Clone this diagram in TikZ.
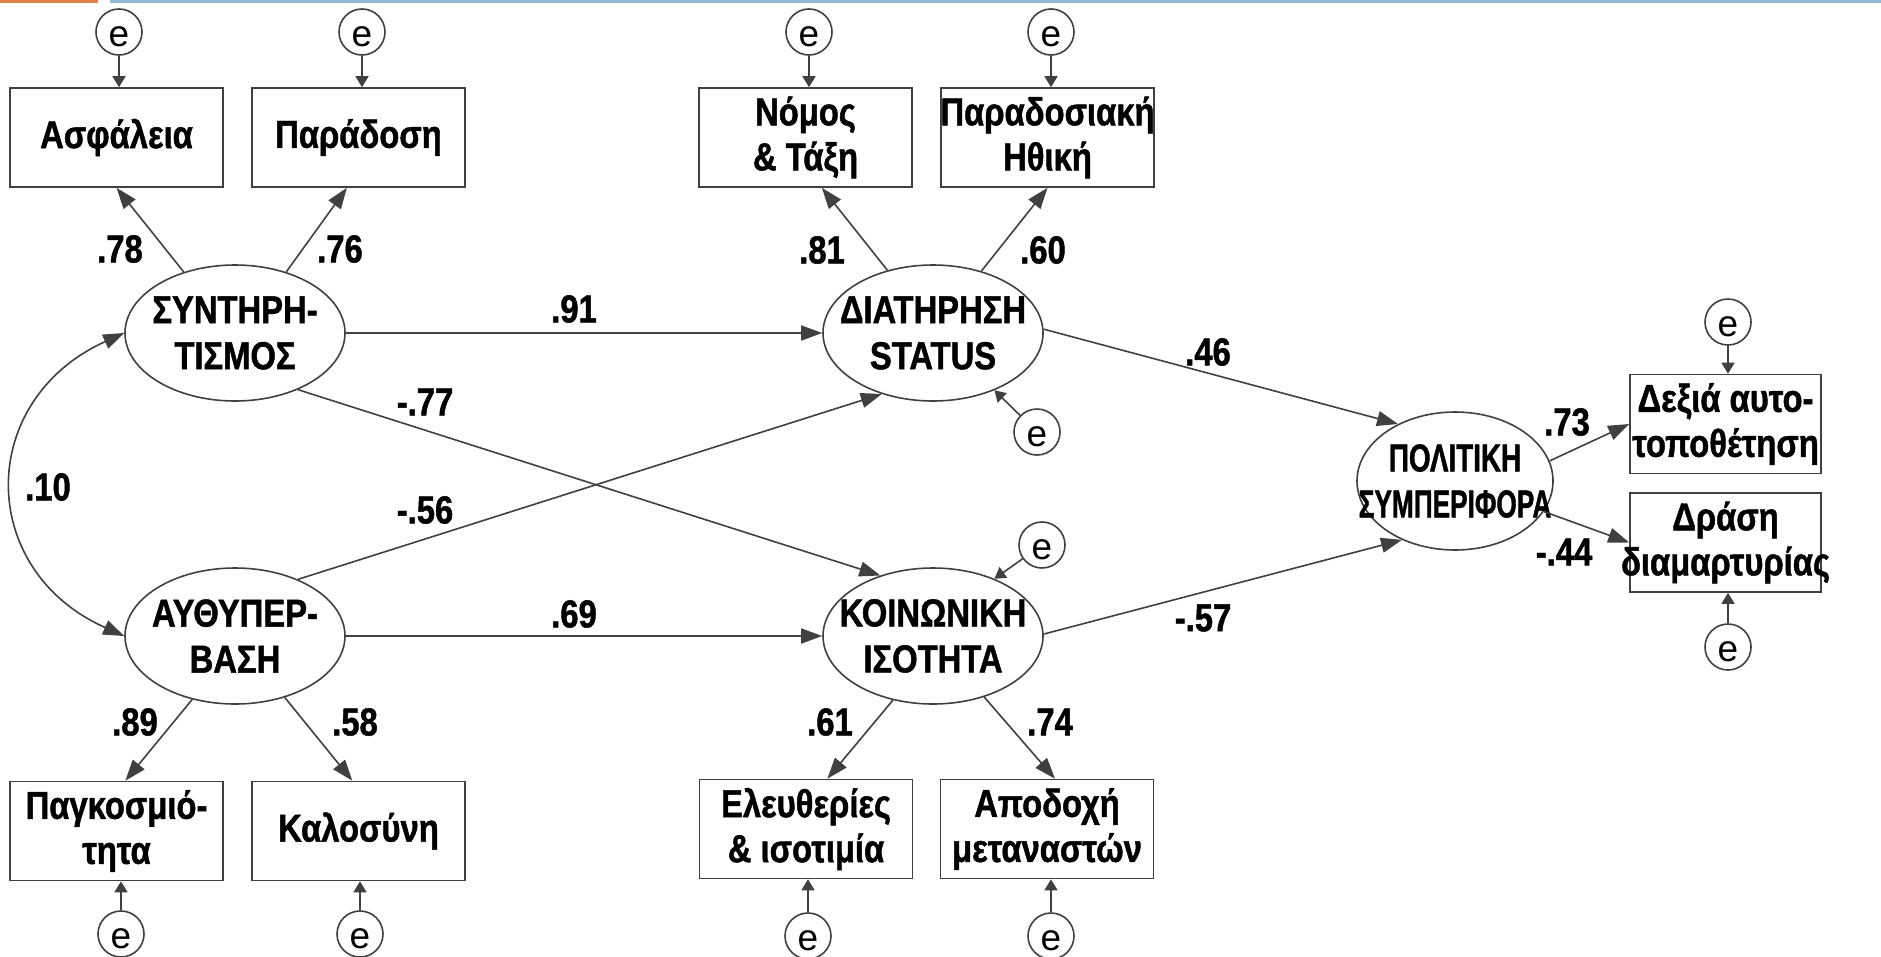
\documentclass[tikz,border=0pt]{standalone}
\usepackage{graphicx}
\usepackage{fontspec}
\setmainfont{Liberation Sans}[FakeStretch=0.84,BoldFeatures={FakeBold=1.2}]
\newfontfamily\efont{Liberation Sans}
\usetikzlibrary{shapes.geometric,arrows.meta}
\definecolor{linegray}{HTML}{404040}
\definecolor{barorange}{HTML}{E1824B}
\definecolor{barblue}{HTML}{96B9D4}

\begin{document}
\begin{tikzpicture}[x=1pt,y=-1pt,
   latent/.style={ellipse,draw=linegray,line width=1.6pt,minimum width=220pt,minimum height=136pt,
      inner xsep=-40pt,inner ysep=0pt,align=center,font=\bfseries\fontsize{39}{46}\selectfont},
   obs/.style={rectangle,draw=linegray,line width=1.6pt,minimum width=213pt,minimum height=99pt,
      inner xsep=-20pt,inner ysep=0pt,align=center,font=\bfseries\fontsize{39}{45}\selectfont},
   err/.style={circle,draw=linegray,line width=1.6pt,minimum size=46pt,inner sep=0pt,
      text height=28pt,text depth=0pt,font=\efont\fontsize{37}{37}\selectfont},
   coef/.style={inner sep=0pt,font=\bfseries\fontsize{39}{45}\selectfont},
   causal/.style={draw=linegray,line width=1.6pt,-{Triangle[length=21pt,width=15pt]}},
   covar/.style={draw=linegray,line width=1.6pt,{Triangle[length=21pt,width=15pt]}-{Triangle[length=21pt,width=15pt]}},
   errarrow/.style={draw=linegray,line width=1.6pt,-{Triangle[length=11pt,width=13pt]}}]
   \useasboundingbox (0,0) rectangle (1881,956);
   \fill[barorange] (0,0) rectangle (98,3);
   \fill[barblue] (110,0) rectangle (1881,3);

   % latent variables
   \node[latent] (syn) at (235,333) {ΣΥΝΤΗΡΗ-\\ΤΙΣΜΟΣ};
   \node[latent] (auth) at (235,636) {ΑΥΘΥΠΕΡ-\\ΒΑΣΗ};
   \node[latent] (dia) at (933,333) {ΔΙΑΤΗΡΗΣΗ\\STATUS};
   \node[latent] (koin) at (933,636) {ΚΟΙΝΩΝΙΚΗ\\ΙΣΟΤΗΤΑ};
   \node[latent,minimum width=196pt,minimum height=138pt] (pol) at (1455,481)
      {\scalebox{0.85}[1]{ΠΟΛΙΤΙΚΗ}\\\scalebox{0.8}[1]{ΣΥΜΠΕΡΙΦΟΡΑ}};

   % indicators
   \node[obs] (asf) at (116.5,137.5) {Ασφάλεια};
   \node[obs] (par) at (358.5,137.5) {Παράδοση};
   \node[obs] (nom) at (805.5,137.5) {Νόμος\\\& Τάξη};
   \node[obs] (ithi) at (1047.5,137.5) {Παραδοσιακή\\Ηθική};
   \node[obs] (pagk) at (116.5,831) {Παγκοσμιό-\\τητα};
   \node[obs] (kal) at (358.5,831) {Καλοσύνη};
   \node[obs] (ele) at (806,829) {Ελευθερίες\\\& ισοτιμία};
   \node[obs] (apo) at (1047,829) {Αποδοχή\\μεταναστών};
   \node[obs,minimum width=191pt] (dex) at (1725.5,424) {Δεξιά αυτο-\\τοποθέτηση};
   \node[obs,minimum width=191pt] (dra) at (1725.5,542.5) {Δράση\\διαμαρτυρίας};

   % error terms
   \node[err] (e1) at (119,32) {e};
   \node[err] (e2) at (362,32) {e};
   \node[err] (e3) at (809,32) {e};
   \node[err] (e4) at (1051,32) {e};
   \node[err] (e5) at (121,934) {e};
   \node[err] (e6) at (360,934) {e};
   \node[err] (e7) at (808,936) {e};
   \node[err] (e8) at (1051,936) {e};
   \node[err] (e9) at (1037,432) {e};
   \node[err] (e10) at (1042,545) {e};
   \node[err] (e11) at (1728,322) {e};
   \node[err] (e12) at (1728,647) {e};

   \draw[errarrow] (e1.south) -- (e1.south |- asf.north);
   \draw[errarrow] (e2.south) -- (e2.south |- par.north);
   \draw[errarrow] (e3.south) -- (e3.south |- nom.north);
   \draw[errarrow] (e4.south) -- (e4.south |- ithi.north);
   \draw[errarrow] (e5.north) -- (e5.north |- pagk.south);
   \draw[errarrow] (e6.north) -- (e6.north |- kal.south);
   \draw[errarrow] (e7.north) -- (e7.north |- ele.south);
   \draw[errarrow] (e8.north) -- (e8.north |- apo.south);
   \draw[errarrow] (e9) -- (dia.-43);
   \draw[errarrow] (e10) -- (koin.43);
   \draw[errarrow] (e11.south) -- (e11.south |- dex.north);
   \draw[errarrow] (e12.north) -- (e12.north |- dra.south);

   % structural paths
   \draw[covar] (syn.west) .. controls (-24,400) and (-24,570) .. (auth.west);
   \draw[causal] (syn) -- (dia);
   \draw[causal] (auth) -- (koin);
   \draw[causal] (syn.-42) -- (koin.131);
   \draw[causal] (auth.42) -- (dia.230);
   \draw[causal] (dia.2) -- (pol.135);
   \draw[causal] (koin.1) -- (pol.228);
   \draw[causal] (pol.12) -- (dex.west);
   \draw[causal] (pol.-19) -- (dra.west);

   % loadings
   \draw[causal] (syn.130) -- (asf.south);
   \draw[causal] (syn.50) -- (par.257);
   \draw[causal] (dia.126) -- (nom.288);
   \draw[causal] (dia.52) -- (ithi.south);
   \draw[causal] (auth.236) -- (pagk.80);
   \draw[causal] (auth.-51) -- (kal.97);
   \draw[causal] (koin.238) -- (ele.67);
   \draw[causal] (koin.-50) -- (apo.81);

   % coefficients
   \node[coef] (c78) at (120,249) {.78};
   \node[coef] (c76) at (340,249) {.76};
   \node[coef] (c81) at (822,250) {.81};
   \node[coef] (c60) at (1043,250) {.60};
   \node[coef] (c91) at (574,309) {.91};
   \node[coef] (c77) at (425,402) {-.77};
   \node[coef] (c56) at (425,510) {-.56};
   \node[coef] (c10) at (48,487) {.10};
   \node[coef] (c69) at (574,614) {.69};
   \node[coef] (c46) at (1208,352) {.46};
   \node[coef] (c57) at (1203,618) {-.57};
   \node[coef] (c89) at (135,722) {.89};
   \node[coef] (c58) at (355,722) {.58};
   \node[coef] (c61) at (830,722) {.61};
   \node[coef] (c74) at (1050,722) {.74};
   \node[coef] (c73) at (1567,422) {.73};
   \node[coef] (c44) at (1564,552) {-.44};
\end{tikzpicture}
\end{document}
